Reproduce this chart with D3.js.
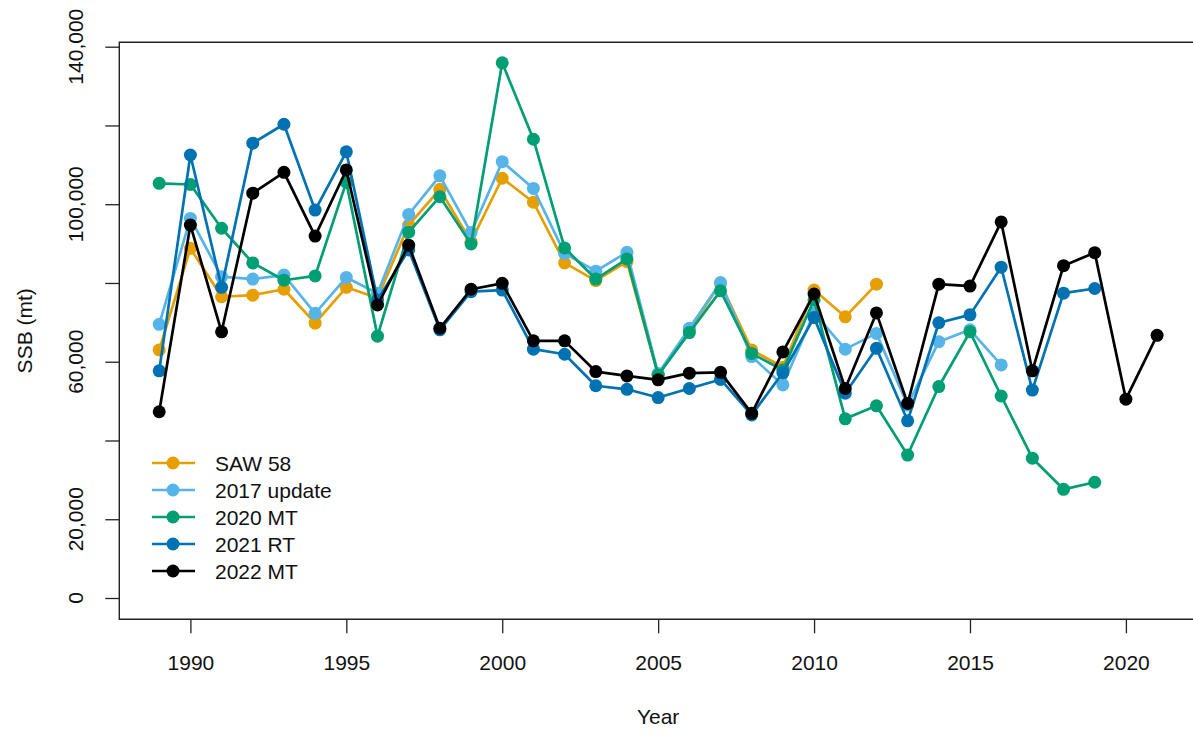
<!DOCTYPE html>
<html>
<head>
<meta charset="utf-8">
<script src="https://cdn.jsdelivr.net/npm/d3@7"></script>
<style>
  html, body { margin: 0; padding: 0; background: #fff; }
  svg { display: block; font-family: "Liberation Sans", Arial, sans-serif; }
</style>
</head>
<body>
<svg id="chart" width="1193" height="734"></svg>
<script>
// SSB estimates by assessment run
const years = d3.range(1989, 2022);

const saw58 = [63000, 88800, 76500, 76900, 78400, 69800, 78900, 76200, 94700, 103800,
  90500, 106600, 100500, 85100, 80600, 85400, 56600, 68000, 79900, 63000,
  58600, 78200, 71400, 79700];
const update2017 = [69500, 96400, 81600, 81000, 82000, 72300, 81400, 77400, 97400, 107200,
  92800, 110800, 104000, 87500, 83000, 87800, 57000, 68500, 80100, 61300,
  54100, 72400, 63200, 67200, 49000, 65100, 68100, 59200];
const mt2020 = [105300, 105000, 93900, 85100, 80700, 81800, 105600, 66500, 92900, 101900,
  89900, 135900, 116500, 88900, 81000, 86100, 56600, 67400, 78000, 62100,
  57900, 75700, 45500, 48800, 36300, 53700, 67600, 51300, 35500, 27600, 29400];
const rt2021 = [57700, 112500, 78900, 115500, 120300, 98500, 113300, 75700, 88400, 68100,
  77800, 78200, 63200, 61900, 53900, 53000, 50900, 53200, 55500, 46500,
  57200, 71200, 52000, 63400, 45000, 69900, 71900, 84000, 52800, 77400, 78600];
const mt2022 = [47300, 94700, 67600, 102800, 108100, 91900, 108700, 74400, 89600, 68500,
  78400, 79900, 65300, 65300, 57500, 56400, 55400, 57100, 57300, 46900,
  62500, 77200, 53200, 72400, 49400, 79700, 79200, 95500, 57700, 84400, 87700,
  50500, 66700];

const seriesNames = ["SAW 58", "2017 update", "2020 MT", "2021 RT", "2022 MT"];
const seriesValues = [saw58, update2017, mt2020, rt2021, mt2022];
const seriesColors = ["#E69F00", "#56B4E9", "#009E73", "#0072B2", "#000000"];

const xTicks = [1990, 1995, 2000, 2005, 2010, 2015, 2020];
const yTicks = [0, 20000, 40000, 60000, 80000, 100000, 120000, 140000];
const yTickLabels = [0, 20000, 60000, 100000, 140000];

const svg = d3.select("#chart");
const box = { left: 119.3, right: 1197, top: 42.3, bottom: 619.3 };

const x = d3.scaleLinear().domain([1987.72, 2022.28]).range([box.left, box.right]);
const y = d3.scaleLinear().domain([-5409, 141117]).range([box.bottom, box.top]);
const fmt = d3.format(",");

// plot frame
svg.append("path")
  .attr("d", `M${box.right},${box.top}H${box.left}V${box.bottom}H${box.right}`)
  .attr("fill", "none").attr("stroke", "#222").attr("stroke-width", 1.4);

// x axis
const xAxis = svg.append("g").attr("transform", `translate(0,${box.bottom})`)
  .call(d3.axisBottom(x).tickValues(xTicks).tickSize(14).tickPadding(22).tickFormat(d3.format("d")));
xAxis.select(".domain").remove();
xAxis.selectAll(".tick line").attr("stroke", "#222").attr("stroke-width", 1.3);
xAxis.selectAll(".tick text").attr("font-size", 21).attr("fill", "#111")
  .attr("font-family", "Liberation Sans, Arial, sans-serif");

// y axis
const yAxis = svg.append("g").attr("transform", `translate(${box.left},0)`)
  .call(d3.axisLeft(y).tickValues(yTicks).tickSize(14).tickFormat(() => ""));
yAxis.select(".domain").remove();
yAxis.selectAll(".tick line").attr("stroke", "#222").attr("stroke-width", 1.3);

svg.append("g").selectAll("text").data(yTickLabels).join("text")
  .attr("transform", d => `translate(83,${y(d)}) rotate(-90)`)
  .attr("text-anchor", "middle")
  .attr("font-size", 21).attr("fill", "#111")
  .text(d => fmt(d));

// axis titles
svg.append("text").attr("x", (box.left + box.right) / 2).attr("y", 724)
  .attr("text-anchor", "middle").attr("font-size", 21).attr("fill", "#111").text("Year");
svg.append("text").attr("transform", `translate(32,${(box.top + box.bottom) / 2}) rotate(-90)`)
  .attr("text-anchor", "middle").attr("font-size", 21).attr("fill", "#111").text("SSB (mt)");

// series lines and points
const line = d3.line().x(d => x(d.year)).y(d => y(d.value));
seriesValues.forEach((vals, i) => {
  const pts = vals.map((v, j) => ({ year: years[j], value: v }));
  const g = svg.append("g");
  g.append("path").datum(pts).attr("d", line)
    .attr("fill", "none").attr("stroke", seriesColors[i]).attr("stroke-width", 2.7)
    .attr("stroke-linejoin", "round");
  g.selectAll("circle").data(pts).join("circle")
    .attr("cx", d => x(d.year)).attr("cy", d => y(d.value)).attr("r", 6.5)
    .attr("fill", seriesColors[i]);
});

// legend
const legend = svg.append("g").attr("transform", "translate(152,463)");
seriesNames.forEach((name, i) => {
  const row = legend.append("g").attr("transform", `translate(0,${i * 27})`);
  row.append("line").attr("x1", 0).attr("x2", 43).attr("y1", 0).attr("y2", 0)
    .attr("stroke", seriesColors[i]).attr("stroke-width", 2.7);
  row.append("circle").attr("cx", 21).attr("cy", 0).attr("r", 6.5).attr("fill", seriesColors[i]);
  row.append("text").attr("x", 63).attr("y", 7.5).attr("font-size", 21).attr("fill", "#111").text(name);
});
</script>
</body>
</html>
